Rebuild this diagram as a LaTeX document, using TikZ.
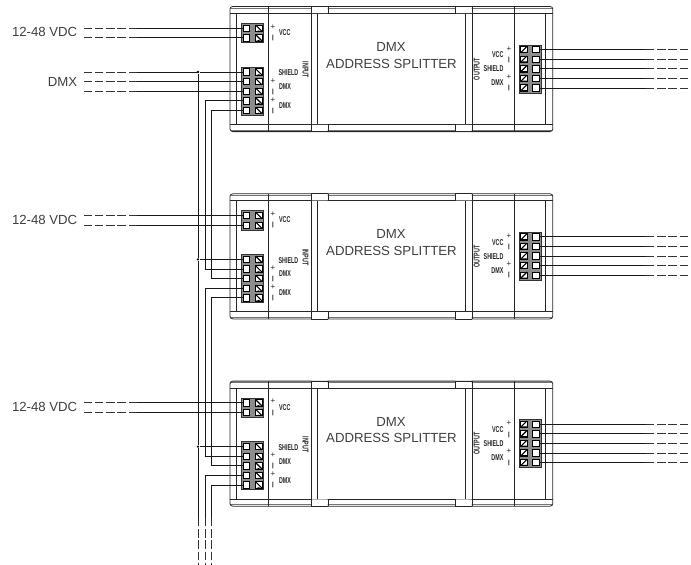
\documentclass[tikz,border=0pt]{standalone}
\usepackage{fontspec}
\setmainfont{Liberation Sans}
\tikzset{
  x=1pt,y=-1pt,
  body/.style={line width=0.8pt,black!85},
  shade line/.style={line width=0.8pt,black!55},
  wire/.style={line width=0.7pt,black!90},
  farwire/.style={line width=0.7pt,black!80,dash pattern=on 8.4pt off 2.8pt},
  block/.style={draw=black!80,fill=black!45,line width=0.8pt,minimum width=22pt,inner sep=0pt,outer sep=0pt},
  pad/.style={draw=black,fill=white,line width=0.7pt,minimum size=6.4pt,inner sep=0pt,outer sep=0pt},
  big/.style={font=\fontsize{13.2}{15}\selectfont,inner sep=0pt,text=black!75},
  tiny/.style={font=\fontsize{8.5}{9}\selectfont\bfseries,inner sep=0pt,xscale=0.63,text=black!85},
  tinyup/.style={font=\fontsize{8.5}{9}\selectfont\bfseries,inner sep=0pt,text=black!85},
  sign/.style={font=\fontsize{8}{8}\selectfont,inner sep=0pt,text=black!85},
  minus sign/.style={font=\fontsize{6}{6}\selectfont\bfseries,inner sep=0pt,text=black},
  dotjoin/.style={circle,fill=black,inner sep=0pt,minimum size=2.6pt},
}
% #1 node prefix, #2 vertical offset
\newcommand{\unitbody}[2]{%
 \begin{scope}[yshift=-#2pt]
  \draw[shade line] (231,8) -- (552,8);
  \draw[shade line] (231,130.2) -- (552,130.2);
  \draw[body] (233,6.5) -- (550,6.5) to[out=0,in=90] (552.8,9) -- (552.8,129) to[out=-90,in=0] (550,131.6) -- (233,131.6) to[out=180,in=-90] (230,129) -- (230,9) to[out=90,in=180] (233,6.5);
  \draw[body] (230,13.5) -- (552.8,13.5) (230,124.3) -- (552.8,124.3);
  \fill[white] (311.4,5.8) rectangle (327.6,13) (311.4,124.8) rectangle (327.6,132.4)
               (455.4,5.8) rectangle (471.6,13) (455.4,124.8) rectangle (471.6,132.4);
  \draw[body] (311,6.5) -- (311,131.6) (328,6.5) -- (328,13.5) (328,124.3) -- (328,131.6)
     (455,6.5) -- (455,13.5) (455,124.3) -- (455,131.6) (472,6.5) -- (472,131.6)
     (317,13.5) -- (317,124.3) (465,13.5) -- (465,124.3)
     (311,6.5) -- (328,6.5) (311,131.6) -- (328,131.6) (455,6.5) -- (472,6.5) (455,131.6) -- (472,131.6)
     (236.7,13.5) -- (236.7,124.3) (545,13.5) -- (545,124.3)
     (268,6.5) -- (268,131.6) (514,6.5) -- (514,131.6);
  \node[big] (#1title) at (391,47) {DMX};
  \node[big] (#1name) at (391.5,63.5) {ADDRESS SPLITTER};
  \node[tinyup,rotate=-90] (#1input) at (305.4,70) {\scalebox{0.63}[1]{INPUT}};
  \node[tinyup,rotate=90] (#1output) at (476.8,69) {\scalebox{0.63}[1]{OUTPUT}};
  \node[tiny,anchor=west] (#1lv) at (279,32.5) {VCC};
  \node[tiny,anchor=west] (#1ls) at (278.5,73) {SHIELD};
  \node[tiny,anchor=west] (#1ld) at (279,86.5) {DMX};
  \node[tiny,anchor=west] (#1le) at (279,105.5) {DMX};
  \node[tiny,anchor=east] (#1rv) at (503.5,55) {VCC};
  \node[tiny,anchor=east] (#1rs) at (503.5,69) {SHIELD};
  \node[tiny,anchor=east] (#1rd) at (503.5,83) {DMX};
  \node[sign] (#1p1) at (273,27) {+};
  \node[minus sign] (#1m1) at (273,38) {|};
  \node[sign] (#1p2) at (273,81) {+};
  \node[minus sign] (#1m2) at (273,91.5) {|};
  \node[sign] (#1p3) at (273,100) {+};
  \node[minus sign] (#1m3) at (273,110.5) {|};
  \node[sign] (#1p4) at (509,49) {+};
  \node[minus sign] (#1m4) at (509,60) {|};
  \node[sign] (#1p5) at (509,77) {+};
  \node[minus sign] (#1m5) at (509,88) {|};
  % terminal blocks
  \node[block,minimum height=19.3pt] (#1vb) at (252.3,33) {};
  \node[block,minimum height=48pt] (#1db) at (252.3,91.2) {};
  \node[block,minimum height=48.3pt] (#1ob) at (530,69.1) {};
  \foreach \yy/\nn in {28.2/a,37.8/b,72/c,81.6/d,91.2/e,100.8/f,110.4/g}{
    \node[pad] (#1\nn) at (246.4,\yy) {};
    \node[pad] (#1h\nn) at (258.8,\yy) {};
    \draw[line width=1.1pt] (#1h\nn.north west) -- (#1h\nn.south east);
    \fill[black] (#1h\nn.south west) -- (#1h\nn.south east) -- ++(-2,0) -- ++(-1,-1) -- ++(-3.4,1) -- cycle;
  }
  \foreach \yy/\nn in {49.5/a,59.1/b,68.7/c,78.3/d,87.9/e}{
    \node[pad] (#1q\nn) at (536,\yy) {};
    \node[pad] (#1k\nn) at (523.8,\yy) {};
    \draw[line width=1.1pt] (#1k\nn.south west) -- (#1k\nn.north east);
    \fill[black] (#1k\nn.south west) -- (#1k\nn.south east) -- ++(0,-0.9) -- ++(-5,0) -- cycle;
    \coordinate (#1far\nn) at (691,\yy);
    \coordinate (#1mid\nn) at (646,\yy);
    \draw[wire] (#1q\nn.east) -- (#1mid\nn);
    \draw[farwire] (#1mid\nn) -- (#1far\nn);
  }
  % power supply wires
  \coordinate (#1pa) at (137,28.2);
  \coordinate (#1pb) at (137,37.8);
  \coordinate (#1pae) at (82.5,28.2);
  \coordinate (#1pbe) at (82.5,37.8);
  \draw[wire] (#1a.west) -- (#1pa);
  \draw[wire] (#1b.west) -- (#1pb);
  \draw[farwire] (#1pa) -- (#1pae);
  \draw[farwire] (#1pb) -- (#1pbe);
  \node[big,anchor=east] (#1vdc) at (77.5,32.3) {12-48 VDC};
  % daisy-chain tap on the shield
  \node[dotjoin] (#1dot) at (198,72) {};
  \draw[wire] (#1c.west) -- (#1dot);
 \end{scope}
}
\begin{document}
\begin{tikzpicture}
\useasboundingbox (0,0) rectangle (691,565);
\fill[white] (0,0) rectangle (691,565);
\unitbody{A}{0}
\unitbody{B}{187.3}
\unitbody{C}{374.6}
% first unit DMX input
\coordinate (Ad1) at (137,81.6);
\coordinate (Ae1) at (137,91.2);
\coordinate (As1) at (137,72);
\coordinate (Adf) at (82.5,81.6);
\coordinate (Aef) at (82.5,91.2);
\coordinate (Asf) at (82.5,72);
\draw[wire] (Adot) -- (As1);
\draw[wire] (Ad.west) -- (Ad1);
\draw[wire] (Ae.west) -- (Ae1);
\draw[farwire] (As1) -- (Asf);
\draw[farwire] (Ad1) -- (Adf);
\draw[farwire] (Ae1) -- (Aef);
\node[big,anchor=east] (dmxin) at (77.5,81.6) {DMX};
% shield bus
\draw[wire] (Adot) -- (Bdot);
\draw[wire] (Bdot) -- (Cdot);
% chain A to B
\draw[wire] (Af.west) -- (205,0 |- Af.west) -- (205,0 |- Bd.west) -- (Bd.west);
\draw[wire] (Ag.west) -- (211.8,0 |- Ag.west) -- (211.8,0 |- Be.west) -- (Be.west);
% chain B to C
\draw[wire] (Bf.west) -- (205,0 |- Bf.west) -- (205,0 |- Cd.west) -- (Cd.west);
\draw[wire] (Bg.west) -- (211.8,0 |- Bg.west) -- (211.8,0 |- Ce.west) -- (Ce.west);
% onward from C
\coordinate (n1) at (198,518);
\coordinate (n2) at (205,518);
\coordinate (n3) at (211.8,518);
\coordinate (e1) at (198,565);
\coordinate (e2) at (205,565);
\coordinate (e3) at (211.8,565);
\draw[wire] (Cdot) -- (n1);
\draw[wire] (Cf.west) -| (n2);
\draw[wire] (Cg.west) -| (n3);
\draw[farwire] (n1) -- (e1);
\draw[farwire] (n2) -- (e2);
\draw[farwire] (n3) -- (e3);
\end{tikzpicture}
\end{document}
